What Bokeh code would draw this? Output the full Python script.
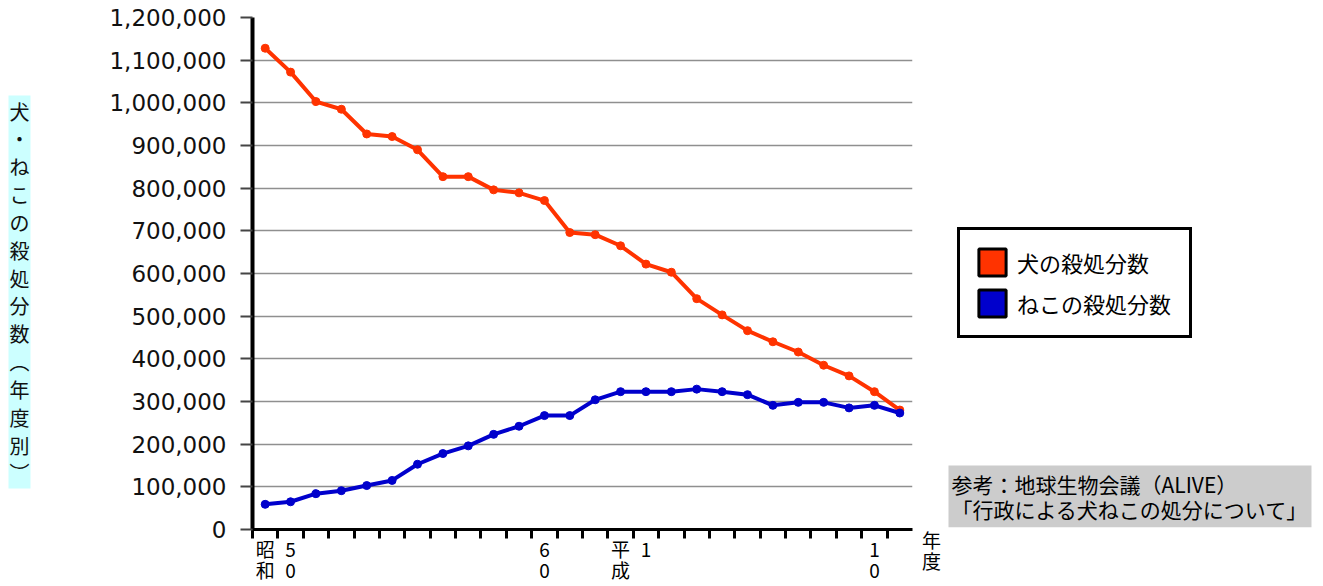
from bokeh.plotting import figure
from bokeh.layouts import row
from bokeh.models import (Range1d, FixedTicker, NumeralTickFormatter, Label,
                          Legend, LegendItem, ColumnDataSource, LinearAxis)
from bokeh.embed import file_html
from bokeh.resources import INLINE

# ---- data (fiscal years 昭和49 .. 平成11) ----
years = list(range(1974, 2000))
dogs = [1128000, 1072000, 1003000, 985000, 927000, 921000, 890000, 827000,
        827000, 796000, 789000, 771000, 696000, 691000, 665000, 622000,
        603000, 541000, 503000, 466000, 440000, 416000, 385000, 360000,
        323000, 280000]
cats = [59000, 65000, 84000, 91000, 103000, 115000, 153000, 178000,
        196000, 223000, 242000, 267000, 267000, 304000, 323000, 323000,
        323000, 329000, 323000, 316000, 291000, 298000, 298000, 285000,
        291000, 273000]
tick_years = [1974, 1975, 1985, 1988, 1989, 1998]
tick_labels = ["昭\n和", "5\n0", "6\n0", "平\n成", "1", "1\n0"]
y_ticks = list(range(0, 1200001, 100000))
dog_name = "犬の殺処分数"
cat_name = "ねこの殺処分数"
y_title = "犬・ねこの殺処分数︵年度別︶"
x_title = "年\n度"
source_text = "参考：地球生物会議（ALIVE）\n「行政による犬ねこの処分について」"

RED = "#ff3300"
BLUE = "#0000cc"
JP = "Noto Sans CJK JP"
H = 586
FB = 529  # expected frame bottom (shared by the row)

src = ColumnDataSource(dict(year=years, dogs=dogs, cats=cats))

X_FONT = "19px"
X_LH = 0.8
X_STANDOFF = -4


def blank(width):
    f = figure(width=width, height=H, output_backend="svg",
               toolbar_location=None, x_axis_type=None, y_axis_type=None,
               x_range=Range1d(0, width), y_range=Range1d(0, 1),
               min_border=0)
    f.outline_line_color = None
    f.xgrid.visible = False
    f.ygrid.visible = False
    return f


# ---------------- left strip: vertical y-axis title ----------------
left = blank(60)
left.add_layout(Label(x=8, y=FB - 95, x_units="screen", y_units="screen",
                      text="\n".join(list(y_title)), text_font=JP,
                      text_font_size="20px", text_line_height=0.96,
                      text_align="left", text_baseline="top",
                      text_color="#111111",
                      background_fill_color="#ccffff", padding=1))

# ---------------- main chart ----------------
MW, BL, FW, BT = 855, 192, 660, 17
p = figure(width=MW, height=H, output_backend="svg", toolbar_location=None,
           x_range=Range1d(years[0] - 0.5, years[-1] + 0.5),
           y_range=Range1d(0, 1200000),
           min_border_left=BL, min_border_top=BT,
           min_border_right=MW - BL - FW, min_border_bottom=H - FB)
p.outline_line_color = None

p.xgrid.grid_line_color = None
p.ygrid.grid_line_color = "#8f8f8f"
p.ygrid.grid_line_width = 1.5
p.ygrid.ticker = FixedTicker(ticks=y_ticks)

ya = p.yaxis[0]
ya.ticker = FixedTicker(ticks=y_ticks)
ya.formatter = NumeralTickFormatter(format="0,0")
ya.axis_line_color = "black"
ya.axis_line_width = 4
ya.major_tick_line_color = "#444444"
ya.major_tick_line_width = 2
ya.major_tick_out = 12
ya.major_tick_in = 0
ya.minor_tick_line_color = None
ya.major_label_standoff = 14
ya.major_label_text_font = "DejaVu Sans"
ya.major_label_text_font_size = "23px"
ya.major_label_text_color = "#111111"

xa = p.xaxis[0]
xa.ticker = FixedTicker(ticks=tick_years,
                        minor_ticks=[y - 0.5 for y in years])
xa.major_label_overrides = {y: t for y, t in zip(tick_years, tick_labels)}
xa.axis_line_color = "black"
xa.axis_line_width = 3
xa.major_tick_line_color = None
xa.major_tick_out = 0
xa.major_tick_in = 0
xa.minor_tick_line_color = "black"
xa.minor_tick_line_width = 3
xa.minor_tick_out = 9
xa.minor_tick_in = 0
xa.major_label_standoff = X_STANDOFF
xa.major_label_text_font = JP
xa.major_label_text_font_size = X_FONT
xa.major_label_text_line_height = X_LH
xa.major_label_text_color = "black"

p.line("year", "dogs", source=src, line_color=RED, line_width=4)
p.scatter("year", "dogs", source=src, size=8, fill_color=RED, line_color=RED)
p.line("year", "cats", source=src, line_color=BLUE, line_width=4)
p.scatter("year", "cats", source=src, size=8, fill_color=BLUE, line_color=BLUE)

# ---------------- right strip: unit label, legend, source ----------------
RW = 405
right = blank(RW)
# unit label "年度" as an axis tick label so it lines up with the year labels
ua = LinearAxis(ticker=FixedTicker(ticks=[16], minor_ticks=[]),
                major_label_overrides={16: x_title},
                axis_line_color=None, major_tick_line_color=None,
                minor_tick_line_color=None, major_tick_out=0,
                major_tick_in=0, minor_tick_out=9, minor_tick_in=0,
                major_label_standoff=X_STANDOFF,
                major_label_text_font=JP, major_label_text_font_size=X_FONT,
                major_label_text_line_height=X_LH,
                major_label_text_color="black")
right.add_layout(ua, "below")

# hidden bars that supply the square legend swatches
rd = right.vbar(x="year", top="dogs", source=src, width=0.8, fill_color=RED,
                line_color="black", line_width=3, visible=False)
rc = right.vbar(x="year", top="cats", source=src, width=0.8, fill_color=BLUE,
                line_color="black", line_width=3, visible=False)
legend = Legend(items=[LegendItem(label=dog_name, renderers=[rd]),
                       LegendItem(label=cat_name, renderers=[rc])],
                location=(42, FB - 338), orientation="vertical",
                glyph_width=34, glyph_height=34, spacing=7, padding=15,
                label_standoff=8, label_width=157,
                label_text_font=JP, label_text_font_size="22px",
                label_text_color="black",
                border_line_color="black", border_line_width=3,
                border_line_alpha=1.0,
                background_fill_color="white", background_fill_alpha=1.0)
right.add_layout(legend, "center")

right.add_layout(Label(x=33, y=FB - 465, x_units="screen", y_units="screen",
                       text=source_text, text_font=JP,
                       text_font_size="21px", text_line_height=0.86,
                       text_align="left", text_baseline="top",
                       text_color="black",
                       background_fill_color="#cccccc", padding=3))

layout = row(left, p, right, spacing=0)
open("out.html", "w").write(file_html(layout, INLINE))
